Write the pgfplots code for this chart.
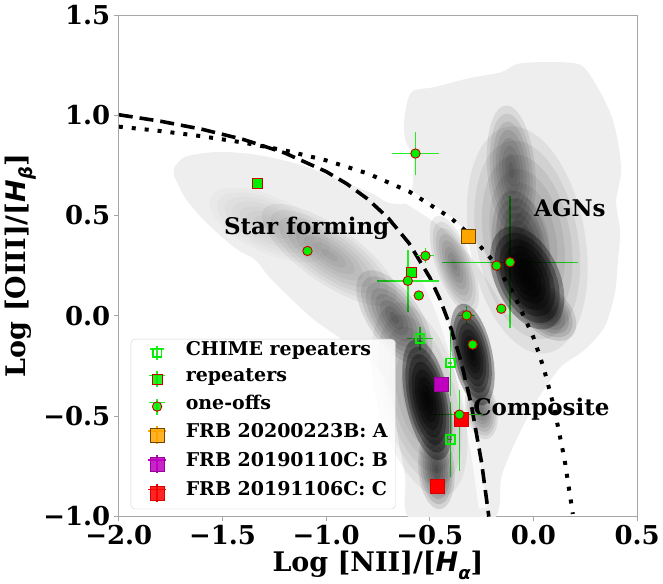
\documentclass[border=0pt]{standalone}
\usepackage{fontspec}
\setmainfont{DejaVu Serif}
\newfontfamily\dvsans{DejaVu Sans}
\usepackage{pgfplots}
\usepackage{pgfplotstable}
\pgfplotsset{compat=1.18}
\definecolor{lime}{RGB}{0,238,0}
\definecolor{ebar}{RGB}{40,235,40}
\definecolor{edgered}{RGB}{200,0,0}
\definecolor{frbA}{RGB}{255,165,0}
\definecolor{frbAe}{RGB}{110,70,0}
\definecolor{frbB}{RGB}{191,0,191}
\definecolor{frbC}{RGB}{255,0,0}
\definecolor{env}{RGB}{238,238,238}
\newcommand{\Hsub}[1]{{\dvsans\bfseries\itshape H\raisebox{-0.28em}{\fontsize{18}{18}\selectfont #1}}}
% density blobs: centre (x,y), semi-axes ra, rb (pt), angle rot (deg), opacity per layer a
\pgfplotstableread{
x y ra rb rot a
-1.273 0.453 65 28 -25 0.020
-0.984 0.303 80 28 -35 0.044
-0.671 -0.010 55 26 -55 0.095
-0.550 -0.418 100 42 -75 0.052
-0.512 -0.418 62 22 -78 0.312
-0.468 -0.766 40 18 -85 0.108
-0.382 0.254 52 18 -70 0.072
-0.295 -0.194 52 20 -78 0.312
-0.251 -0.468 30 16 -80 0.083
-0.030 0.378 115 58 -80 0.062
-0.107 0.726 65 24 -85 0.083
-0.059 0.328 60 28 -80 0.108
-0.030 0.189 55 32 -65 0.312
0.066 0.020 35 22 -45 0.108
}\blobs
\pgfplotsset{blob/.style={scatter, only marks, mark=*, mark size=1pt, forget plot,
  visualization depends on={\thisrow{ra}\as\bra},
  visualization depends on={\thisrow{rb}\as\brb},
  visualization depends on={\thisrow{rot}\as\brot},
  visualization depends on={\thisrow{a}\as\bop},
  scatter/@pre marker code/.code={\scope[rotate=\brot, xscale=\bra*#1, yscale=\brb*#1, fill=black, fill opacity=\bop, draw opacity=0]},
  scatter/@post marker code/.code={\endscope}}}
\pgfplotsset{ebars/.style={error bars/.cd, x dir=both, x explicit, y dir=both, y explicit, error mark=none,
  error bar style={draw=ebar, line width=1.4pt, draw opacity=1}}}
\begin{document}
\begin{tikzpicture}
\begin{axis}[name=ax, scale only axis, width=519pt, height=502pt,
 xmin=-2, xmax=0.5, ymin=-1, ymax=1.5,
 xtick={-2,-1.5,-1,-0.5,0,0.5}, xticklabels={−2.0,−1.5,−1.0,−0.5,0.0,0.5},
 ytick={-1,-0.5,0,0.5,1,1.5}, yticklabels={−1.0,−0.5,0.0,0.5,1.0,1.5},
 tick label style={font=\fontsize{26}{26}\selectfont\bfseries},
 tick align=outside, tick pos=left, major tick length=5pt,
 tick style={gray!70, line width=0.8pt},
 axis line style={gray!70, line width=0.8pt},
 xlabel={Log [NII]/[\Hsub{α}]}, ylabel={Log [OIII]/[\Hsub{β}]},
 label style={font=\fontsize{27}{27}\selectfont\bfseries},
 legend style={at={(0.023,0.014)}, anchor=south west, font=\fontsize{19}{19}\selectfont\bfseries,
   draw=gray!35, rounded corners=4pt, fill=white, fill opacity=0.85, text opacity=1,
   row sep=10pt, inner xsep=6pt, inner ysep=6pt,
   nodes={inner sep=1.5pt, text depth=0.25em, text height=0.75em}},
 legend cell align=left,
]
% ---- background density: envelope ----
\addplot[fill=env, draw=none, smooth, tension=0.5, forget plot] coordinates {
(-1.735,0.735) (-1.679,0.793) (-1.518,0.817) (-1.326,0.801) (-1.117,0.751) (-0.956,0.685)
(-0.780,0.610) (-0.695,0.562) (-0.598,0.577) (-0.579,0.776) (-0.618,0.876) (-0.622,0.985)
(-0.589,1.114) (-0.474,1.141) (-0.314,1.184) (-0.155,1.215) (-0.073,1.257) (0.086,1.265)
(0.230,1.249) (0.312,1.134) (0.375,1.0) (0.408,0.867) (0.423,0.718) (0.399,0.569)
(0.418,0.419) (0.408,0.279) (0.393,0.113) (0.344,-0.053) (0.248,-0.169) (0.135,-0.252)
(0.039,-0.385) (-0.025,-0.501) (-0.089,-0.633) (-0.154,-0.800) (-0.202,-1.02) (-0.587,-1.02)
(-0.619,-0.800) (-0.651,-0.617) (-0.684,-0.418) (-0.748,-0.269) (-0.844,-0.178) (-0.956,-0.095)
(-1.069,-0.011) (-1.181,0.096) (-1.277,0.196) (-1.342,0.279) (-1.438,0.337) (-1.582,0.469)
(-1.679,0.586) (-1.735,0.701)} -- cycle;
% ---- density blobs: stacked translucent ellipses ----
\addplot[blob=1.0] table {\blobs};
\addplot[blob=0.875] table {\blobs};
\addplot[blob=0.75] table {\blobs};
\addplot[blob=0.625] table {\blobs};
\addplot[blob=0.5] table {\blobs};
\addplot[blob=0.375] table {\blobs};
\addplot[blob=0.25] table {\blobs};
\addplot[blob=0.125] table {\blobs};
% ---- white gaps ----
\addplot[white, line width=14pt, opacity=0.95, smooth, forget plot] coordinates {
(-0.90,0.735) (-0.85,0.710) (-0.65,0.620) (-0.45,0.489) (-0.35,0.398) (-0.25,0.280) (-0.15,0.120) (-0.10,0.017)};
\addplot[white, line width=8pt, opacity=0.75, smooth, forget plot] coordinates {
(-0.525,0.191) (-0.475,0.080) (-0.425,-0.056) (-0.375,-0.225) (-0.325,-0.443) (-0.275,-0.733) (-0.245,-0.959)};
% ---- demarcation lines ----
\addplot[black, line width=3.6pt, dash pattern=on 14pt off 7pt, forget plot] coordinates {
(-2.0,1.0024) (-1.8,0.9703) (-1.6,0.9303) (-1.4,0.8793) (-1.2,0.812) (-1.0,0.719) (-0.9,0.6579)
(-0.8,0.5824) (-0.7,0.4867) (-0.6,0.3615) (-0.5,0.1909) (-0.45,0.08) (-0.4,-0.0556) (-0.35,-0.225)
(-0.3,-0.4429) (-0.25,-0.7333) (-0.215,-1.0019)};
\addplot[black, line width=4pt, dash pattern=on 4pt off 9pt, forget plot] coordinates {
(-2.0,0.943) (-1.8,0.9213) (-1.6,0.8953) (-1.4,0.8638) (-1.2,0.8247) (-1.0,0.775) (-0.8,0.7097)
(-0.6,0.6199) (-0.4,0.4889) (-0.3,0.3978) (-0.2,0.2796) (-0.1,0.1198) (0.0,-0.1079) (0.05,-0.2624)
(0.1,-0.4586) (0.15,-0.7163) (0.19,-0.9886)};
% ---- labels ----
\node[font=\fontsize{23}{23}\selectfont\bfseries] at (axis cs:-1.094,0.436) {Star forming};
\node[font=\fontsize{23}{23}\selectfont\bfseries] at (axis cs:0.176,0.536) {AGNs};
\node[font=\fontsize{23}{23}\selectfont\bfseries] at (axis cs:0.039,-0.468) {Composite};
% ---- data ----
\addplot[only marks, mark=square, mark size=4.3pt, mark options={draw=lime, line width=1.8pt, fill=none},
  legend image code/.code={\path (0,0) (47pt,0); \draw[ebar, line width=1.4pt] (13pt,0)--(27pt,0) (20pt,-7pt)--(20pt,7pt);
  \draw[mark=square, mark size=4.3pt, mark options={draw=lime, line width=1.8pt, fill=none}] plot coordinates {(20pt,0pt)};},
  ebars]
 coordinates {(-0.547,-0.114) +- (0.063,0.058) (-0.401,-0.235) +- (0.01,0.166) (-0.401,-0.617) +- (0.01,0.187)};
\addlegendentry{CHIME repeaters}
\addplot[only marks, mark=square*, mark size=5pt, mark options={fill=lime, draw=edgered, line width=0.9pt},
  legend image code/.code={\path (0,0) (47pt,0); \draw[ebar, line width=1.4pt] (12pt,0)--(28pt,0) (20pt,-8pt)--(20pt,8pt);
  \draw[mark=square*, mark size=5pt, mark options={fill=lime, draw=edgered, line width=0.9pt}] plot coordinates {(20pt,0pt)};}]
 coordinates {(-1.332,0.658) (-0.590,0.215)};
\addlegendentry{repeaters}
\addplot[only marks, mark=square*, mark size=7pt, mark options={fill=frbC, draw=frbC!85!black, line width=0.6pt}, forget plot]
 coordinates {(-0.349,-0.517)};
% error bars of the uppermost one-off, drawn as plain segments
\addplot[draw=ebar, line width=1.4pt, forget plot] coordinates {(-0.681,0.809) (-0.457,0.809)};
\addplot[draw=ebar, line width=1.4pt, forget plot] coordinates {(-0.569,0.701) (-0.569,0.917)};
\addplot[only marks, mark=*, mark size=4.7pt, mark options={fill=lime, draw=edgered, line width=0.9pt},
  legend image code/.code={\path (0,0) (47pt,0); \draw[ebar, line width=1.4pt] (12pt,0)--(28pt,0) (20pt,-8pt)--(20pt,8pt);
  \draw[mark=*, mark size=4.7pt, mark options={fill=lime, draw=edgered, line width=0.9pt}] plot coordinates {(20pt,0pt)};},
  ebars]
 coordinates {(-1.090,0.323) +- (0,0) (-0.569,0.809) +- (0,0) (-0.521,0.299) +- (0.04,0.037)
 (-0.606,0.174) +- (0.15,0.153) (-0.553,0.101) +- (0,0) (-0.178,0.250) +- (0,0) (-0.113,0.267) +- (0.33,0.33)
 (-0.155,0.035) +- (0,0) (-0.322,0.002) +- (0.04,0.045) (-0.293,-0.144) +- (0,0)
 (-0.357,-0.493) += (0.112,0.125) -= (0.145,0.282)};
\addlegendentry{one-offs}
\addplot[only marks, mark=square*, mark size=7pt, mark options={fill=frbA, draw=frbAe, line width=0.6pt},
  legend image code/.code={\path (0,0) (47pt,0); \draw[frbA, line width=1.3pt] (11pt,0)--(29pt,0) (20pt,-9pt)--(20pt,9pt);
  \draw[mark=square*, mark size=7pt, mark options={fill=frbA, draw=frbAe, line width=0.6pt}] plot coordinates {(20pt,0pt)};}]
 coordinates {(-0.313,0.398)};
\addlegendentry{FRB 20200223B: A}
\addplot[only marks, mark=square*, mark size=7pt, mark options={fill=frbB, draw=frbB!80!black, line width=0.6pt},
  legend image code/.code={\path (0,0) (47pt,0); \draw[frbB, line width=1.3pt] (11pt,0)--(29pt,0) (20pt,-9pt)--(20pt,9pt);
  \draw[mark=square*, mark size=7pt, mark options={fill=frbB, draw=frbB!80!black, line width=0.6pt}] plot coordinates {(20pt,0pt)};}]
 coordinates {(-0.446,-0.343)};
\addlegendentry{FRB 20190110C: B}
\addplot[only marks, mark=square*, mark size=7pt, mark options={fill=frbC, draw=frbC!85!black, line width=0.6pt},
  legend image code/.code={\path (0,0) (47pt,0); \draw[frbC, line width=1.3pt] (11pt,0)--(29pt,0) (20pt,-9pt)--(20pt,9pt);
  \draw[mark=square*, mark size=7pt, mark options={fill=frbC, draw=frbC!85!black, line width=0.6pt}] plot coordinates {(20pt,0pt)};}]
 coordinates {(-0.462,-0.849)};
\addlegendentry{FRB 20191106C: C}
\end{axis}
\path ([xshift=-119pt,yshift=-67pt]ax.south west) rectangle ([xshift=25pt,yshift=15pt]ax.north east);
\end{tikzpicture}
\end{document}
